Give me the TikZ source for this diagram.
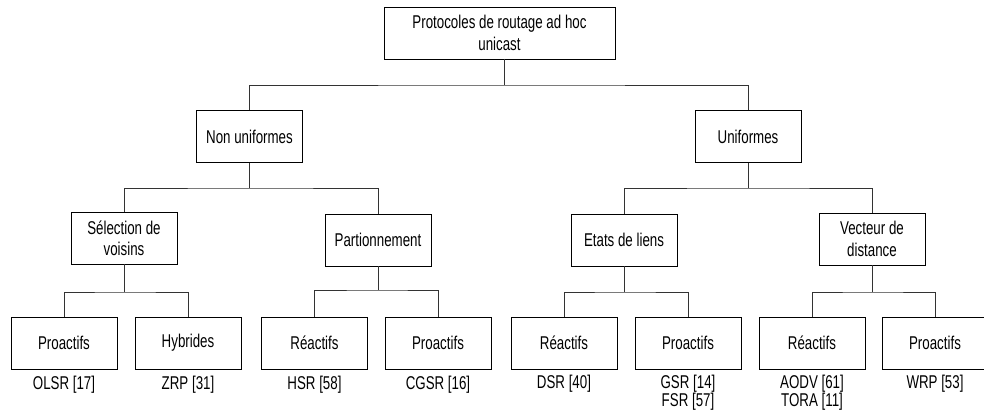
\documentclass[tikz,border=0pt]{standalone}
\usepackage{fontspec}
\setmainfont{Liberation Sans}[FakeStretch=0.72]
\begin{document}
\begin{tikzpicture}[x=1pt,y=-1pt,
  every node/.style={font=\fontsize{18.5}{21.3}\selectfont},
  box/.style={draw=black,line width=0.9pt,minimum width=106pt,minimum height=52pt,
    align=center,inner sep=2pt},
  wide/.style={box,minimum width=231pt},
  ref/.style={anchor=north,align=center,inner sep=0pt,
    font=\fontsize{18.5}{18}\selectfont},
  link/.style={draw=black!80,line width=0.9pt}]
\useasboundingbox (0,0) rectangle (984,419);

% root
\node[wide] (root) at (499.5,33) {Protocoles de routage ad hoc\\unicast};
\coordinate (rootdrop) at (504,59);

% second level
\node[box] (nonu) at (249.5,136.5) {Non uniformes};
\node[box] (unif) at (748,136.5) {Uniformes};

% third level
\node[box] (selv) at (124,238) {S\'election de\\voisins};
\node[box] (part) at (378,240) {Partionnement};
\node[box] (etat) at (624,240) {Etats de liens};
\node[box] (vect) at (872,239) {Vecteur de\\distance};

% leaves
\node[box] (l1) at (64,343) {Proactifs};
\node[box] (l2) at (188,343) {Hybrides};
\node[box] (l3) at (314.5,343) {R\'eactifs};
\node[box] (l4) at (438,343) {Proactifs};
\node[box] (l5) at (564,343) {R\'eactifs};
\node[box] (l6) at (688,343) {Proactifs};
\node[box] (l7) at (812,343) {R\'eactifs};
\node[box] (l8) at (935,343) {Proactifs};

% protocol references under the leaves
\node[ref] (r1) at ([yshift=-6pt]l1.south) {OLSR [17]};
\node[ref] (r2) at ([yshift=-6pt]l2.south) {ZRP [31]};
\node[ref] (r3) at ([yshift=-6pt]l3.south) {HSR [58]};
\node[ref] (r4) at ([yshift=-6pt]l4.south) {CGSR [16]};
\node[ref] (r5) at ([yshift=-5pt]l5.south) {DSR [40]};
\node[ref] (r6) at ([yshift=-5pt]l6.south) {GSR [14]\\FSR [57]};
\node[ref] (r7) at ([yshift=-5pt]l7.south) {AODV [61]\\TORA [11]};
\node[ref] (r8) at ([yshift=-5pt]l8.south) {WRP [53]};

% tree connectors
\coordinate (b0) at (504,85);
\draw[link] (rootdrop) -- (b0);
\draw[link] (nonu.north) |- (b0) -| (unif.north);

\coordinate (b1) at (249.5,188);
\draw[link] (nonu.south) -- (b1);
\draw[link] (selv.north) |- (b1) -| (part.north);

\coordinate (b2) at (748,188);
\draw[link] (unif.south) -- (b2);
\draw[link] (etat.north) |- (b2) -| (vect.north);

\coordinate (b3) at (124,292);
\draw[link] (selv.south) -- (b3);
\draw[link] (l1.north) |- (b3) -| (l2.north);

\coordinate (b4) at (378,290);
\draw[link] (part.south) -- (b4);
\draw[link] (l3.north) |- (b4) -| (l4.north);

\coordinate (b5) at (624,292);
\draw[link] (etat.south) -- (b5);
\draw[link] (l5.north) |- (b5) -| (l6.north);

\coordinate (b6) at (872,292);
\draw[link] (vect.south) -- (b6);
\draw[link] (l7.north) |- (b6) -| (l8.north);
\end{tikzpicture}
\end{document}
